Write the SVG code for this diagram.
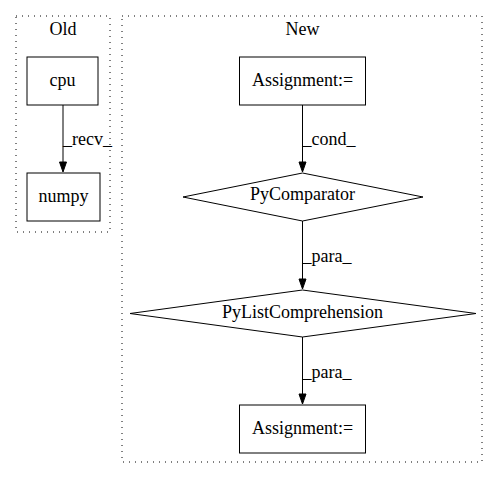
<svg xmlns="http://www.w3.org/2000/svg" width="499" height="480" viewBox="0 0 499 480">
<style>
text{font-family:"Liberation Serif","Times New Roman",serif;font-size:18px;fill:#000}
.c{text-anchor:middle}
.cl{fill:none;stroke:#000;stroke-dasharray:1,5}
.n{fill:#fff;stroke:#000;stroke-width:1}
.e{fill:none;stroke:#000;stroke-width:1}
.h{fill:#000;stroke:#000}
</style>
<rect width="499" height="480" fill="#fff"/>
<g id="cluster_old">
<rect class="cl" x="16" y="16" width="94" height="216"/>
<text class="c" x="63" y="35">Old</text>
</g>
<g id="cluster_new">
<rect class="cl" x="122" y="16" width="360" height="446"/>
<text class="c" x="302.5" y="35">New</text>
</g>
<g id="connectors">
<path class="e" d="M63,105 V162"/>
<polygon class="h" points="59.5,162 66.5,162 63,172"/>
<text x="63" y="145">_recv_</text>
<path class="e" d="M302.5,105 V162"/>
<polygon class="h" points="299,162 306,162 302.5,172"/>
<text x="302.5" y="145">_cond_</text>
<path class="e" d="M302.5,221 V279"/>
<polygon class="h" points="299,279 306,279 302.5,289"/>
<text x="302.5" y="261.5">_para_</text>
<path class="e" d="M302.5,337 V394"/>
<polygon class="h" points="299,394 306,394 302.5,404"/>
<text x="302.5" y="377.5">_para_</text>
</g>
<g id="cpu">
<rect class="n" x="27" y="57" width="71" height="48"/>
<text class="c" x="62.5" y="86">cpu</text>
</g>
<g id="numpy">
<rect class="n" x="27" y="173" width="73" height="48"/>
<text class="c" x="63.5" y="202">numpy</text>
</g>
<g id="assign1">
<rect class="n" x="239.5" y="57" width="126" height="48"/>
<text class="c" x="302.5" y="86">Assignment:=</text>
</g>
<g id="pycomparator">
<polygon class="n" points="302.5,173 423,197 302.5,221 183,197"/>
<text class="c" x="302.5" y="200">PyComparator</text>
</g>
<g id="pylistcomp">
<polygon class="n" points="302.5,290 476,313.5 302.5,337 130,313.5"/>
<text class="c" x="302.5" y="318">PyListComprehension</text>
</g>
<g id="assign2">
<rect class="n" x="239.5" y="405" width="126" height="48"/>
<text class="c" x="302.5" y="434">Assignment:=</text>
</g>
</svg>
